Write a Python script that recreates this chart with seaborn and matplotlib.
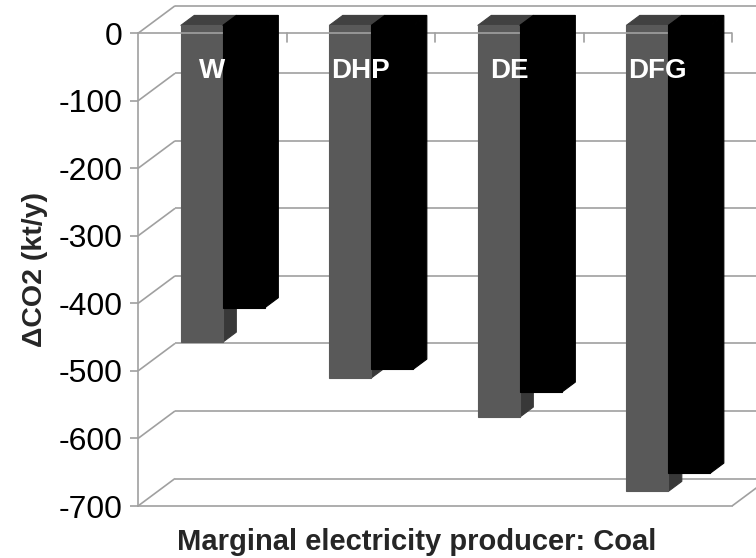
import numpy as np
import pandas as pd
import matplotlib
matplotlib.use("Agg")
import matplotlib.pyplot as plt
import seaborn as sns
from matplotlib.patches import Polygon
from matplotlib.transforms import ScaledTranslation

# --- data -------------------------------------------------------------
producers = ["W", "DHP", "DE", "DFG"]
case_names = ["case 1", "case 2"]
case1_dco2 = [-469, -522, -580, -690]
case2_dco2 = [-418, -509, -543, -663]
y_ticks = [0, -100, -200, -300, -400, -500, -600, -700]

df = pd.DataFrame({
    "producer": producers * 2,
    "case": [case_names[0]] * len(producers) + [case_names[1]] * len(producers),
    "dco2": case1_dco2 + case2_dco2,
})

# --- style ------------------------------------------------------------
sns.set_theme(style="white")
plt.rcParams["font.family"] = ["Liberation Sans", "DejaVu Sans"]

GRID = "#a0a0a0"
FRONT = {"#595959": ("#414141", "#383838"), "#000000": ("#000000", "#000000")}
BAR_COLORS = ["#595959", "#000000"]

DPI = 100
fig = plt.figure(figsize=(7.56, 5.58), dpi=DPI)
ax = fig.add_axes([138 / 756, (558 - 506) / 558, 594 / 756, 472.7 / 558])

sns.barplot(data=df, x="producer", y="dco2", hue="case", order=producers,
            hue_order=case_names, palette=BAR_COLORS, width=0.566,
            saturation=1, dodge=True, errorbar=None, legend=False,
            linewidth=0, ax=ax)

ax.set_xlim(-0.5, len(producers) - 0.5)
ax.set_ylim(min(y_ticks), max(y_ticks))

# oblique depth of the 3-D box (pixels for the full depth)
WX, WY = 37.0, 27.5
D1, D2 = 0.285, 0.65   # front / back of the columns inside the box


def proj(x, v, d):
    """Data point (x, v) pushed back by depth fraction d, in data coords."""
    p = ax.transData.transform((x, v)) + np.array([d * WX, d * WY])
    return ax.transData.inverted().transform(p)


def line(p0, p1, z=0.5):
    ax.plot([p0[0], p1[0]], [p0[1], p1[1]], color=GRID, lw=1.2,
            zorder=z, clip_on=False, solid_capstyle="butt")


x_lo, x_hi = ax.get_xlim()

# back wall gridlines and the left side wall
for v in y_ticks:
    line(proj(x_lo, v, 1), proj(x_hi, v, 1))
    line(proj(x_lo, v, 0), proj(x_lo, v, 1))
# floor, right edge
line(proj(x_hi, min(y_ticks), 0), proj(x_hi, min(y_ticks), 1))

# columns: shift front faces back and add top / side faces
shift = ScaledTranslation(D1 * WX / DPI, D1 * WY / DPI, fig.dpi_scale_trans)
for p in list(ax.patches):
    fc = matplotlib.colors.to_hex(p.get_facecolor())
    top_c, side_c = FRONT.get(fc, (fc, fc))
    z = 2 if fc == "#595959" else 3
    x0 = p.get_x()
    x1 = x0 + p.get_width()
    v = p.get_y() + p.get_height()
    p.set_transform(ax.transData + shift)
    p.set_zorder(z)
    p.set_clip_on(False)
    p.set_edgecolor(fc)
    p.set_linewidth(0.8)
    top = [proj(x0, 0, D1), proj(x1, 0, D1), proj(x1, 0, D2), proj(x0, 0, D2)]
    side = [proj(x1, 0, D1), proj(x1, v, D1), proj(x1, v, D2), proj(x1, 0, D2)]
    for verts, c in ((top, top_c), (side, side_c)):
        ax.add_patch(Polygon(verts, closed=True, facecolor=c, edgecolor=c,
                             lw=0.8, zorder=z - 0.1, clip_on=False))

# category axis along the zero line with boundary ticks
ax.plot([x_lo, x_hi], [0, 0], color=GRID, lw=1.2, zorder=2.5, clip_on=False,
        solid_capstyle="butt")
for i in range(len(producers)):
    xb = i + 0.5
    y_end = ax.transData.inverted().transform(
        ax.transData.transform((xb, 0)) - np.array([0, 9]))[1]
    ax.plot([xb, xb], [0, y_end], color=GRID, lw=1.2, zorder=2.5,
            clip_on=False)

# producer names inside the columns
for i, name in enumerate(producers):
    ax.text(i, -66, name, ha="center", va="baseline", color="white",
            fontsize=20, fontweight="bold", zorder=5)

# axes styling
sns.despine(ax=ax, top=True, right=True)
for side in ("left", "bottom"):
    ax.spines[side].set_color(GRID)
    ax.spines[side].set_linewidth(1.2)
    ax.spines[side].set_zorder(0.6)
ax.set_xticks([])
ax.set_yticks(y_ticks)
ax.set_yticklabels([str(t) for t in y_ticks])
ax.tick_params(axis="y", direction="out", length=6, width=1.2, color=GRID,
               labelsize=23, pad=5, labelcolor="black", left=True)

ax.set_ylabel("ΔCO2 (kt/y)", fontsize=20.5, fontweight="bold")
ax.yaxis.set_label_coords(-0.152, 0.5)
ax.set_xlabel("Marginal electricity producer: Coal", fontsize=21,
              fontweight="bold")
ax.xaxis.label.set_va("baseline")
ax.xaxis.set_label_coords(0.47, -0.093)

fig.savefig("out.png", dpi=DPI)
